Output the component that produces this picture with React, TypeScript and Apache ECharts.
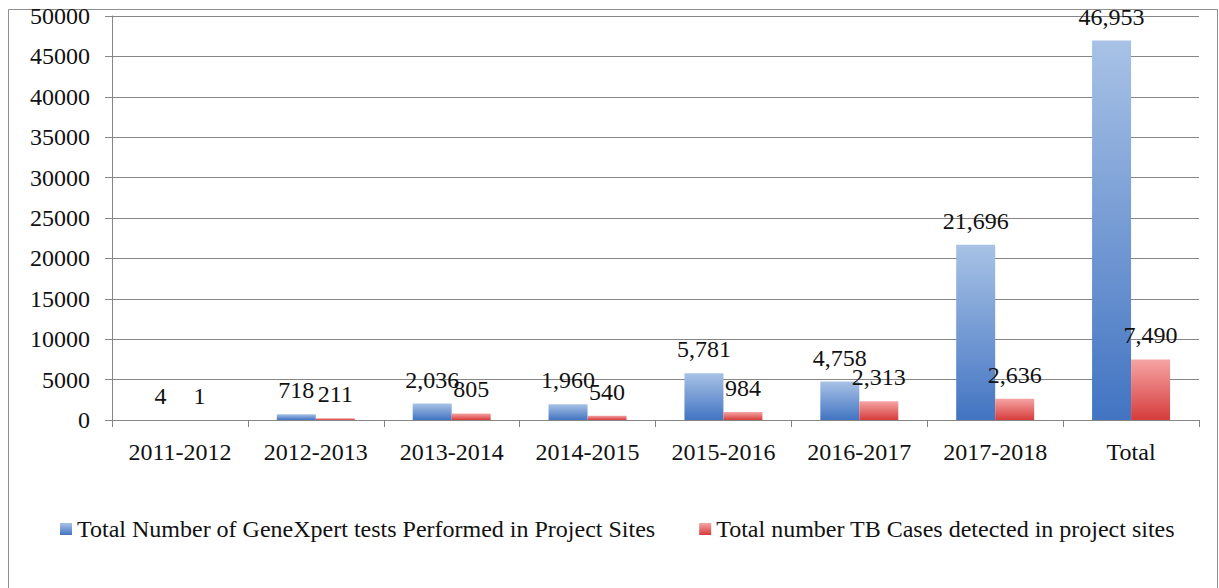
import React, { useEffect, useRef } from "react";
import * as echarts from "echarts";

const categories = ["2011-2012", "2012-2013", "2013-2014", "2014-2015", "2015-2016", "2016-2017", "2017-2018", "Total"];
const geneXpertTests = [4, 718, 2036, 1960, 5781, 4758, 21696, 46953];
const tbCases = [1, 211, 805, 540, 984, 2313, 2636, 7490];
const seriesNames = [
  "Total Number of GeneXpert tests Performed in Project Sites",
  "Total number TB Cases detected in project sites",
];

const FONT = "Liberation Serif";
const fmt = (v: number) => v.toLocaleString("en-US");

export default function App() {
  const ref = useRef<HTMLDivElement>(null);
  useEffect(() => {
    if (!ref.current) return;
    const chart = echarts.init(ref.current, null, { renderer: "svg" });
    const blue = new echarts.graphic.LinearGradient(0, 0, 0, 1, [
      { offset: 0, color: "#a8c2e6" },
      { offset: 1, color: "#4274c2" },
    ]);
    const red = new echarts.graphic.LinearGradient(0, 0, 0, 1, [
      { offset: 0, color: "#f6a4a4" },
      { offset: 1, color: "#d63c3c" },
    ]);
    const label = {
      show: true,
      position: "top" as const,
      distance: 12,
      fontFamily: FONT,
      fontSize: 24,
      lineHeight: 24,
      color: "#111",
      formatter: (p: any) => fmt(p.value),
    };
    chart.setOption({
      animation: false,
      backgroundColor: "#fff",
      textStyle: { fontFamily: FONT },
      graphic: [
        {
          type: "rect",
          shape: { x: 8.5, y: 9.5, width: 1209, height: 620 },
          style: { fill: "none", stroke: "#8f8f8f", lineWidth: 1 },
          silent: true,
        },
      ],
      grid: { left: 112, right: 20, top: 16, bottom: 168 },
      legend: {
        left: 55,
        top: 512,
        itemWidth: 12,
        itemHeight: 12,
        itemGap: 44,
        icon: "rect",
        textStyle: { fontFamily: FONT, fontSize: 24, color: "#111" },
        data: seriesNames,
      },
      xAxis: {
        type: "category",
        data: categories,
        axisLine: { lineStyle: { color: "#868686" } },
        axisTick: { show: true, length: 7, lineStyle: { color: "#868686" } },
        axisLabel: { fontFamily: FONT, fontSize: 24, color: "#111", margin: 20, interval: 0 },
      },
      yAxis: {
        type: "value",
        min: 0,
        max: 50000,
        interval: 5000,
        axisLine: { show: true, lineStyle: { color: "#868686" } },
        axisTick: { show: true, length: 7, lineStyle: { color: "#868686" } },
        splitLine: { lineStyle: { color: "#868686" } },
        axisLabel: {
          fontFamily: FONT,
          fontSize: 24,
          color: "#111",
          margin: 22,
          formatter: (v: number) => String(v),
        },
      },
      series: [
        {
          name: seriesNames[0],
          type: "bar",
          data: geneXpertTests,
          barWidth: 39,
          barGap: "0%",
          itemStyle: { color: blue },
          label,
        },
        {
          name: seriesNames[1],
          type: "bar",
          data: tbCases,
          barWidth: 39,
          barGap: "0%",
          itemStyle: { color: red },
          label,
        },
      ],
    });
    return () => chart.dispose();
  }, []);
  return (
    <div
      ref={ref}
      style={{ position: "absolute", left: 0, top: 0, width: 1219, height: 588 }}
    />
  );
}
